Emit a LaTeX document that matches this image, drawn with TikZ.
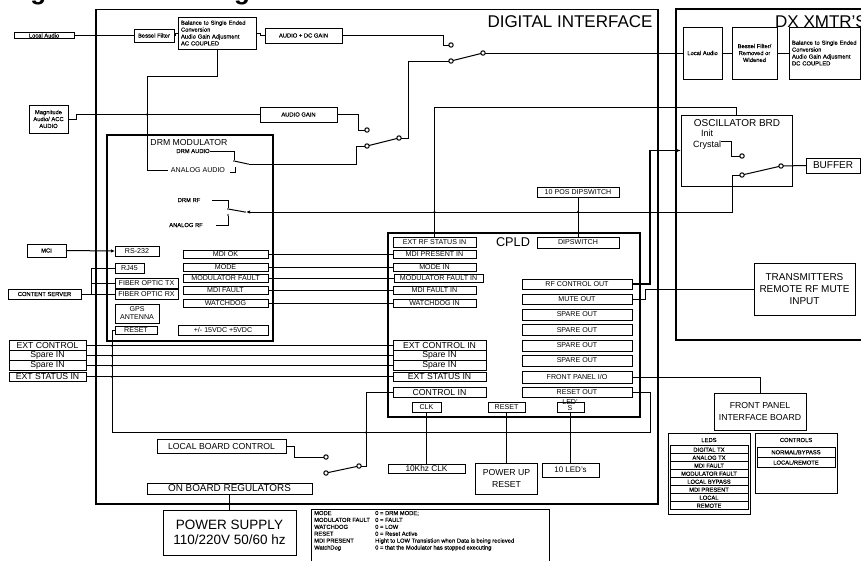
\documentclass[tikz,border=0pt]{standalone}
\usepackage{fontspec}
\setmainfont{Liberation Sans}
\newfontfamily\labelfont[FakeBold=.25]{Liberation Sans}
\usetikzlibrary{arrows.meta}
\tikzset{
  wh/.style 2 args={minimum width=#1,minimum height=#2},
  box/.style={draw,line width=1,inner sep=0,outer sep=0,align=center},
  frame/.style={draw,line width=1.3,inner sep=0,outer sep=0},
  small/.style={font=\labelfont\fontsize{5.8}{6.9}\selectfont},
  mid/.style={font=\fontsize{7.1}{8}\selectfont},
  big/.style={font=\fontsize{8.7}{12}\selectfont},
  contact/.style={circle,draw,fill=white,line width=1,inner sep=0,outer sep=0,minimum size=4.4},
  joint/.style={circle,fill,inner sep=0,minimum size=2.4},
  tick/.style={circle,fill,inner sep=0,minimum size=1.8},
  wire/.style={line width=1},
}
\begin{document}
\begin{tikzpicture}[x=1pt,y=-1pt]
  \useasboundingbox (0,0) rectangle (861,560);
  \node[anchor=base west,inner sep=0,font=\fontsize{26}{26}\selectfont\bfseries] (title) at (7,-.3) {Figure 1 Block Diagram};
  % outer frames
  \node[frame,wh={562}{494.5}] (digital) at (377,256.75) {};
  \node[anchor=center,inner sep=0,font=\fontsize{17}{17}\selectfont] (digitaltxt) at (570,22) {DIGITAL INTERFACE};
  \node[frame,wh={199}{331}] (xmtr) at (775.5,174.5) {};
  \node[frame,wh={166}{206}] (drm) at (190,238) {};
  \node[inner sep=0,big] (drmtxt) at (189,143) {DRM MODULATOR};
  \node[frame,wh={252}{184}] (cpld) at (514,325) {};
  \node[inner sep=0,font=\fontsize{12.7}{13}\selectfont] (cpldtxt) at (513,242) {CPLD};
  % audio path
  \node[box,small,wh={60}{6}] (localaudio) at (44,35.5) {Local Audio};
  \node[box,small,wh={40}{13}] (bessel) at (154,35.5) {Bessel Filter};
  \node[box,small,wh={78}{32},align=left,text width=72] (balance) at (217,33) {Balance to Single Ended\\Conversion\\Audio Gain Adjusment\\AC COUPLED};
  \node[box,small,wh={77}{15}] (dcgain) at (303.5,35.5) {AUDIO + DC GAIN};
  \node[box,small,wh={39}{28}] (magnitude) at (48.5,119) {Magnitude\\Audio/ ACC\\AUDIO};
  \node[box,small,wh={77}{15}] (audiogain) at (298.5,114.5) {AUDIO GAIN};
  \node[contact] (swaup) at (451,45) {};
  \node[contact] (swalow) at (451,61) {};
  \node[contact] (swapole) at (483,53) {};
  \node[contact] (swbup) at (367,130) {};
  \node[contact] (swblow) at (367,146) {};
  \node[contact] (swbpole) at (399,138) {};
  \draw[wire] (localaudio.east) -- (bessel.west);
  \draw[wire] (bessel.east) -- ++(1.5,0) |- (balance.west);
  \draw[wire] (balance.east) -- ++(4,0) |- (dcgain.west);
  \draw[wire] (dcgain.east) -- ++(101,0) |- (swaup.west);
  \draw[wire] (swalow) -- (swapole);
  \draw[wire] (swbpole.east) -- ++(7,0) |- (swalow.west);
  \draw[wire] (audiogain.east) -- ++(21,0) |- (swbup.west);
  \draw[wire] (swblow) -- (swbpole);
  \draw[wire] (magnitude.east) -- ++(8,0) |- (audiogain.west);
  % inside the modulator
  \node[inner sep=0,small] (drmaudio) at (193,151) {DRM AUDIO};
  \node[inner sep=0,mid] (analogaudio) at (198,170) {ANALOG AUDIO};
  \node[tick] (drmup) at (234,161) {};
  \coordinate (drmlow) at (235,167);
  \node[tick] (drmpole) at (248,164) {};
  \node[inner sep=0,small] (drmrf) at (189,200) {DRM RF};
  \node[inner sep=0,small] (analogrf) at (186,225) {ANALOG RF};
  \node[tick] (rfup) at (228,209) {};
  \node[tick] (rflow) at (228,215) {};
  \node[tick] (rfpole) at (245,212) {};
  \draw[wire] (drmaudio.east) -| (drmup);
  \draw[wire] (drmlow) |- ++(-5,5);
  \draw[wire] (drmup) -- (drmpole);
  \draw[wire] (swblow.west) -- ++(-8,0) |- (drmpole);
  \draw[wire] (analogaudio.west) ++(-3,0) -- ++(-20.5,0) |- (217,76) -- (balance.south);
  \draw[wire] (drmrf.east) ++(11.5,0) -| (rfup);
  \draw[wire] (analogrf.east) ++(13,0) -| (rflow);
  \draw[wire] (rfup) -- (rfpole);
  \node[box,mid,wh={44}{10}] (rstwo) at (137,251) {RS-232};
  \node[box,mid,wh={29}{10}] (rj) at (129.5,268) {RJ45};
  \node[box,mid,wh={63}{10}] (fibtx) at (146.5,283) {FIBER OPTIC TX};
  \node[box,mid,wh={63}{10}] (fibrx) at (146.5,294) {FIBER OPTIC RX};
  \node[box,mid,wh={44}{19}] (gps) at (137,313.5) {GPS\\ANTENNA};
  \node[box,mid,wh={42}{8}] (drmreset) at (136,330) {RESET};
  \node[box,mid,wh={85}{8}] (mdiok) at (225.5,254) {MDI OK};
  \node[box,mid,wh={85}{8}] (mode) at (225.5,267) {MODE};
  \node[box,mid,wh={85}{8}] (modfault) at (225.5,278.5) {MODULATOR FAULT};
  \node[box,mid,wh={85}{8}] (mdifault) at (225.5,290) {MDI FAULT};
  \node[box,mid,wh={85}{8}] (watchdog) at (225.5,303) {WATCHDOG};
  \node[box,mid,wh={90}{10}] (supplies) at (223,330) {+/- 15VDC +5VDC};
  % left side inputs
  \node[box,small,wh={39}{13}] (mci) at (46.5,250.5) {MCI};
  \node[box,small,wh={73}{10}] (content) at (44.5,294) {CONTENT SERVER};
  \node[box,big,wh={77}{10}] (extctl) at (47.5,345.7) {EXT CONTROL};
  \node[box,big,wh={77}{10}] (sparea) at (47.5,355.7) {Spare IN};
  \node[box,big,wh={77}{10}] (spareb) at (47.5,365.7) {Spare IN};
  \node[box,big,wh={77}{9}] (extstat) at (47.5,376.7) {EXT STATUS IN};
  \draw[wire,-{Latex[length=4,width=3.5]}] (mci.east) -- (rstwo.west);
  \draw[wire] (content.east) -- (fibrx.west);
  \draw[wire] (content.east) ++(10,0) |- (fibtx.west);
  \draw[wire] (content.east) ++(10,0) |- (rj.west);
  % CPLD inputs
  \node[box,mid,wh={83}{10}] (extrf) at (434.5,242) {EXT RF STATUS IN};
  \node[box,mid,wh={83}{8}] (mdipres) at (434.5,254) {MDI PRESENT IN};
  \node[box,mid,wh={83}{8}] (modein) at (434.5,267) {MODE IN};
  \node[box,mid,wh={89}{8.5}] (modfaultin) at (438.5,278.5) {MODULATOR FAULT IN};
  \node[box,mid,wh={83}{8}] (mdifaultin) at (434.5,290) {MDI FAULT IN};
  \node[box,mid,wh={83}{8}] (watchin) at (434.5,303) {WATCHDOG IN};
  \node[box,big,wh={93}{10}] (extctlin) at (439.5,345.7) {EXT CONTROL IN};
  \node[box,big,wh={93}{10}] (spareina) at (439.5,355.7) {Spare IN};
  \node[box,big,wh={93}{10}] (spareinb) at (439.5,365.7) {Spare IN};
  \node[box,big,wh={93}{9}] (extstatin) at (439.5,376.7) {EXT STATUS IN};
  \node[box,big,wh={93}{10}] (controlin) at (439.5,392) {CONTROL IN};
  \node[box,mid,wh={29}{10}] (clk) at (426.5,407) {CLK};
  \node[box,mid,wh={37}{10}] (cpldreset) at (506.5,407) {RESET};
  \node[box,wh={27}{10}] (ledbox) at (570.5,407) {};
  \node[inner sep=0,mid,align=center,font=\fontsize{7.1}{6}\selectfont] (ledtxt) at (570,405.5) {LED'\\S};
  \node[box,mid,wh={82}{11}] (dipswitch) at (578,242.5) {DIPSWITCH};
  \node[box,mid,wh={82}{10}] (dipbox) at (578,192) {10 POS DIPSWITCH};
  \draw[wire] (mdiok.east) -- (mdipres.west);
  \draw[wire] (mode.east) -- (modein.west);
  \draw[wire] (modfault.east) -- (modfaultin.west);
  \draw[wire] (mdifault.east) -- (mdifaultin.west);
  \draw[wire] (watchdog.east) -- (watchin.west);
  \draw[wire] (extctl.east) -- (extctlin.west);
  \draw[wire] (sparea.east) -- (spareina.west);
  \draw[wire] (spareb.east) -- (spareinb.west);
  \draw[wire] (extstat.east) -- (extstatin.west);
  \draw[wire] (dipbox.south) -- (dipswitch.north);
  % CPLD outputs
  \node[box,mid,wh={110}{10}] (rfcontrol) at (577,284) {RF CONTROL OUT};
  \node[box,mid,wh={110}{10}] (muteout) at (577,299) {MUTE OUT};
  \node[box,mid,wh={110}{11}] (sparex) at (577,314.5) {SPARE OUT};
  \node[box,mid,wh={110}{10.5}] (sparey) at (577,330) {SPARE OUT};
  \node[box,mid,wh={110}{11}] (sparez) at (577,345.5) {SPARE OUT};
  \node[box,mid,wh={110}{11}] (sparew) at (577,360.5) {SPARE OUT};
  \node[box,mid,wh={110}{12}] (fpio) at (577,377) {FRONT PANEL I/O};
  \node[box,mid,wh={110}{10}] (resetout) at (577,392) {RESET OUT};
  % transmitter side
  \node[box,small,wh={39}{52}] (dxlocal) at (702.5,53) {Local Audio};
  \node[box,small,wh={45}{52}] (dxbessel) at (754.5,53) {Bessel Filter/\\Removed or\\Widened};
  \node[box,small,wh={71}{52},align=left,text width=65] (dxbalance) at (824.5,53) {Balance to Single Ended\\Conversion\\Audio Gain Adjusment\\DC COUPLED};
  \node[anchor=west,inner sep=0,font=\fontsize{17}{17}\selectfont] (xmtrtxt) at (775,22) {DX XMTR'S};
  \draw[wire] (swapole) -- (dxlocal.west);
  \draw[wire] (dxlocal.east) -- (dxbessel.west);
  \draw[wire] (dxbessel.east) -- (dxbalance.west);
  \node[box,wh={111}{71}] (osc) at (736.5,150.5) {};
  \node[inner sep=0,font=\fontsize{10}{10}\selectfont] (osctxt) at (737,123) {OSCILLATOR BRD};
  \node[inner sep=0,font=\fontsize{9}{11}\selectfont,align=center] (crystal) at (707,139.5) {Init\\Crystal};
  \node[contact] (swcup) at (742,156) {};
  \node[contact] (swclow) at (742,175) {};
  \node[contact] (swcpole) at (781,166) {};
  \node[box,font=\fontsize{10}{10}\selectfont,wh={54}{15}] (buffer) at (833,165.5) {BUFFER};
  \draw[wire] (crystal.east) ++(0,1.5) -- ++(10,0) |- (swcup.west);
  \draw[wire] (swclow) -- (swcpole);
  \draw[wire] (swcpole) -- (buffer.west);
  \draw[wire,-{Latex[length=4,width=3.5]}] (swclow.west) -- ++(-7,0) |- (rfpole);
  \draw[wire] (extrf.north) -- ++(0,-130) -| (osc.north);
  \draw[line width=1.3,-{Latex[length=6,width=5]}] (rfcontrol.east) -- ++(18,0) |- (osc.west);
  \node[box,font=\fontsize{10}{12}\selectfont,wh={101}{52}] (remote) at (804.5,289) {TRANSMITTERS\\REMOTE RF MUTE\\INPUT};
  \draw[wire] (muteout.east) -- ++(13,0) |- (remote.west);
  % front panel
  \node[box,big,wh={92}{37}] (fpboard) at (760,411.5) {FRONT PANEL\\INTERFACE BOARD};
  \draw[wire] (fpio.east) -| (fpboard.north);
  \node[box,wh={82}{81}] (ledpanel) at (709,473.5) {};
  \node[inner sep=0,small] (ledpaneltxt) at (709,440) {LEDS};
  \node[box,small,wh={78}{8}] (leda) at (709,449.7) {DIGITAL TX};
  \node[box,small,wh={78}{8}] (ledb) at (709,457.7) {ANALOG TX};
  \node[box,small,wh={78}{8}] (ledc) at (709,465.7) {MDI FAULT};
  \node[box,small,wh={78}{8}] (ledd) at (709,473.7) {MODULATOR FAULT};
  \node[box,small,wh={78}{8}] (lede) at (709,481.7) {LOCAL BYPASS};
  \node[box,small,wh={78}{8}] (ledf) at (709,489.7) {MDI PRESENT};
  \node[box,small,wh={78}{8}] (ledg) at (709,497.7) {LOCAL};
  \node[box,small,wh={78}{8}] (ledh) at (709,505.7) {REMOTE};
  \node[box,wh={82}{60}] (ctlpanel) at (796,463) {};
  \node[inner sep=0,small] (ctlpaneltxt) at (796,440) {CONTROLS};
  \node[box,small,wh={78}{10.3}] (ctla) at (796,452.2) {NORMAL/BYPASS};
  \node[box,small,wh={78}{10.3}] (ctlb) at (796,462.5) {LOCAL/REMOTE};
  % bottom of the board
  \node[box,big,wh={129}{14}] (localboard) at (221.5,446) {LOCAL BOARD CONTROL};
  \node[contact] (swdup) at (326,457) {};
  \node[contact] (swdlow) at (326,473) {};
  \node[contact] (swdpole) at (359,466) {};
  \node[box,font=\fontsize{8.3}{10}\selectfont,wh={77}{9}] (tenk) at (426.5,468.5) {10Khz CLK};
  \node[box,big,wh={62}{31}] (powerup) at (506.5,478.5) {POWER UP\\RESET};
  \node[box,font=\fontsize{8}{10}\selectfont,wh={57}{14}] (tenled) at (570.5,470) {10 LED's};
  \node[box,font=\fontsize{9.9}{10}\selectfont,wh={165}{11}] (regulators) at (229.5,488.5) {ON BOARD REGULATORS};
  \node[box,font=\fontsize{13.5}{15.5}\selectfont,wh={133}{45}] (supply) at (229.5,532.5) {POWER SUPPLY\\110/220V 50/60 hz};
  \draw[wire] (localboard.east) -- ++(8,0) |- (swdup.west);
  \draw[wire] (swdlow) -- (swdpole);
  \draw[wire] (controlin.west) -- ++(-27,0) |- (swdpole.east);
  \draw[wire] (clk.south) -- (tenk.north);
  \draw[wire] (cpldreset.south) -- (powerup.north);
  \draw[wire] (ledbox.south) -- (tenled.north);
  \draw[wire] (regulators.south) -- (supply.north);
  \draw[wire] (resetout.east) -- ++(18,0) |- (112,432.5) |- (drmreset.west);
  % legend
  \node[box,wh={238}{58}] (legend) at (430,538) {};
  \node[anchor=north west,inner sep=0,small,align=left] (legendtxt) at (314,510) {%
    \begin{tabular}{@{}p{61pt}@{}l@{}}
      MODE & 0 = DRM MODE;\\
      MODULATOR FAULT & 0 = FAULT\\
      WATCHDOG & 0 = LOW\\
      RESET & 0 = Reset Active\\
      MDI PRESENT & Hight to LOW Transistion when Data is being recieved\\
      WatchDog & 0 = that the Modulator has stopped executing
    \end{tabular}};
  % crossings
  \node[joint] (hopa) at (147,114.5) {};
  \node[joint] (hopb) at (112,345.7) {};
  \node[joint] (hopc) at (112,355.7) {};
  \node[joint] (hopd) at (112,365.7) {};
  \node[joint] (hope) at (112,376.7) {};
  \node[joint] (hopf) at (366,432.5) {};
  \node[joint] (hopg) at (426.5,432.5) {};
  \node[joint] (hoph) at (506.5,432.5) {};
  \node[joint] (hopi) at (434.5,212) {};
  \node[joint] (hopj) at (578,212) {};
  \node[joint] (hopk) at (650,212) {};
\end{tikzpicture}
\end{document}
